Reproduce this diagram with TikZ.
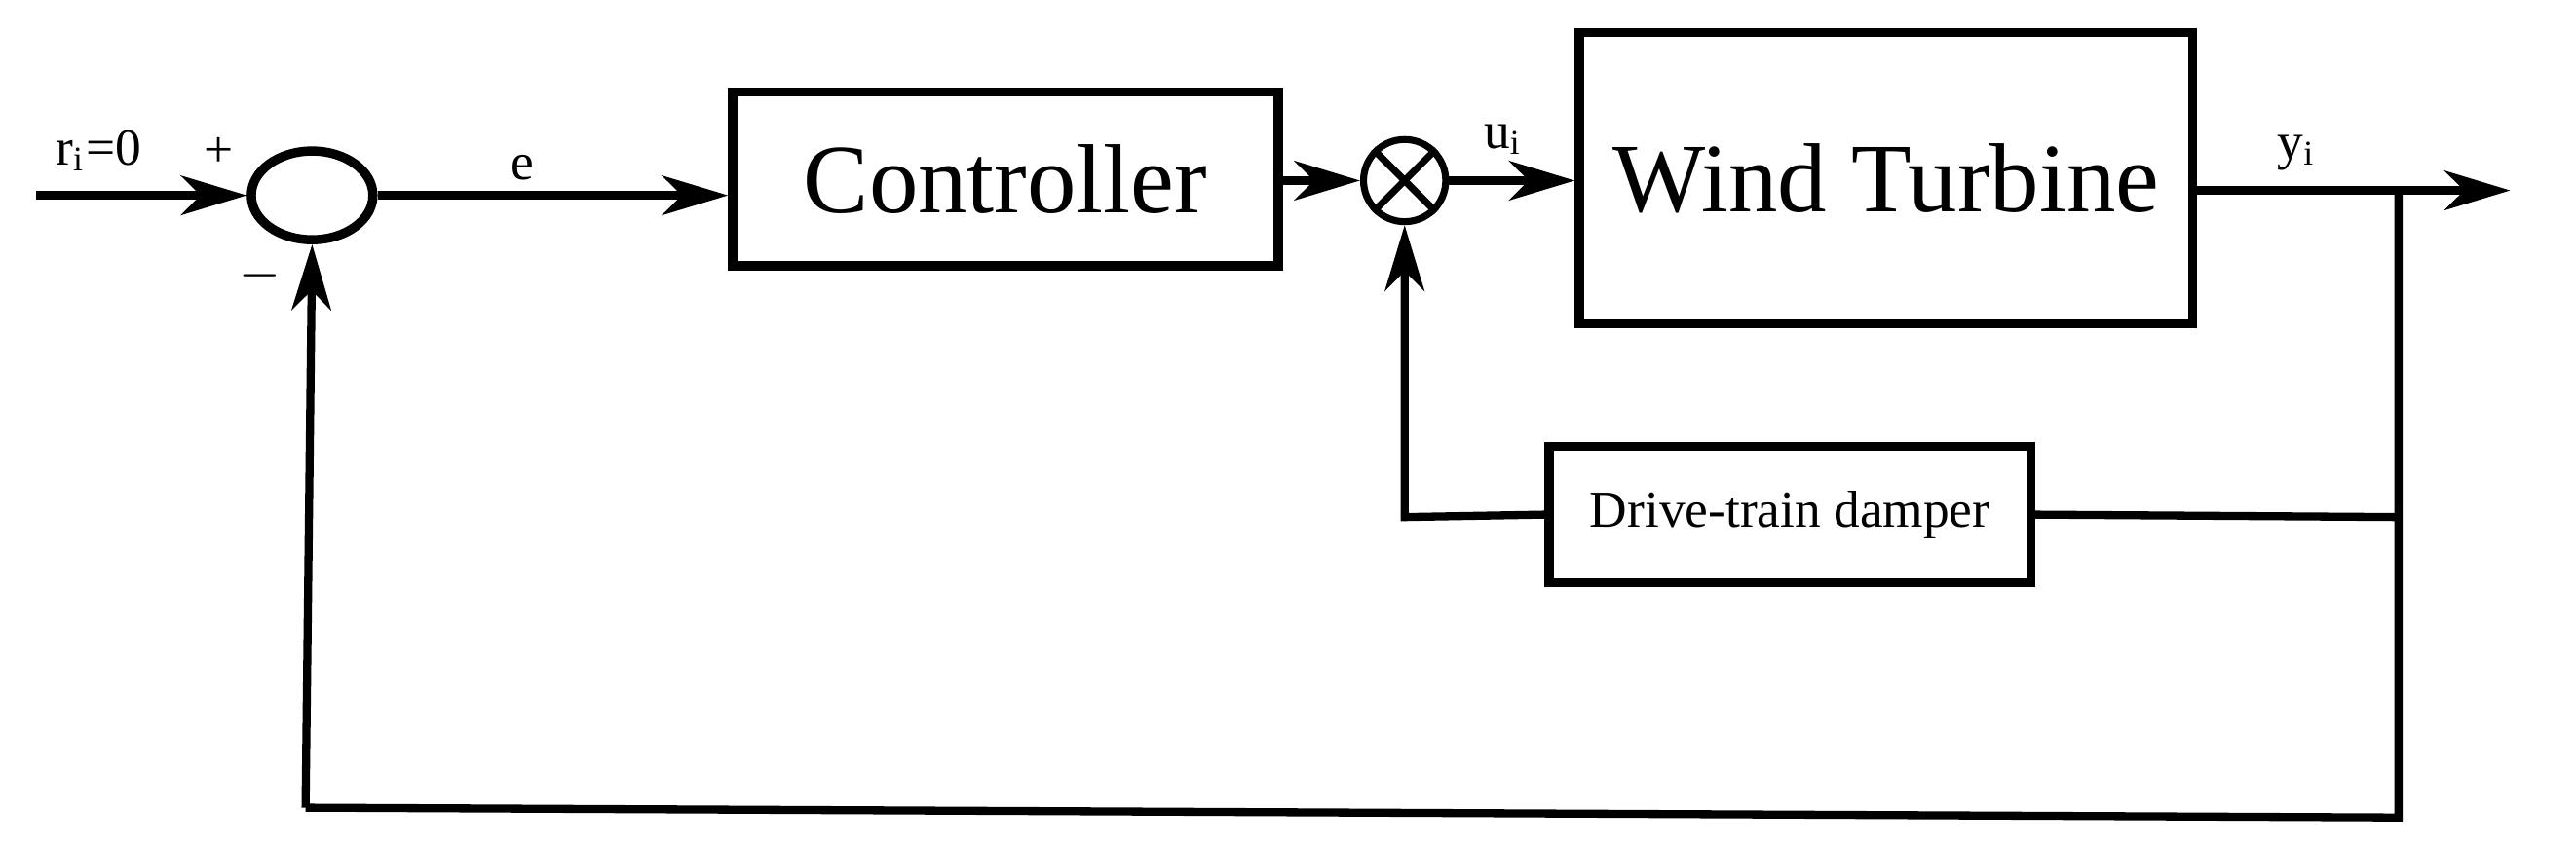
\documentclass[tikz,border=0pt]{standalone}
\usepackage{fontspec}
\setmainfont{Liberation Serif}
\usetikzlibrary{shapes.geometric,arrows.meta,positioning}
\begin{document}
\begin{tikzpicture}[x=0.01cm,y=-0.01cm,
line width=1.4pt,
>={Stealth[length=4mm,width=2.4mm,inset=1.2mm]},
blockBig/.style={rectangle, draw, line width=1.6pt, font=\fontsize{17}{20}\selectfont},
blockSmall/.style={rectangle, draw, line width=1.6pt, font=\fontsize{9}{11}\selectfont},
sumNode/.style={ellipse, draw, line width=1.6pt, minimum width=0.74cm, minimum height=0.54cm, inner sep=0pt},
mulNode/.style={circle, draw, line width=1.2pt, minimum size=0.5cm, inner sep=0pt},
lbl/.style={font=\fontsize{9}{11}\selectfont}]
\useasboundingbox (0,0) rectangle (1568,519);

\node[sumNode] (sum) at (190,119) {};
\node[blockBig, minimum width=3.32cm, minimum height=1.06cm] (ctrl) at (612,109) {Controller};
\node[mulNode] (mul) at (855,110) {};
\draw[line width=1.2pt] (mul.north west) -- (mul.south east) (mul.north east) -- (mul.south west);
\node[blockBig, minimum width=3.73cm, minimum height=1.77cm] (wt) at (1148,108.5) {Wind Turbine};
\node[blockSmall, minimum width=2.93cm, minimum height=0.83cm] (damp) at (1089.5,313.5) {Drive-train damper};

\coordinate (in) at (22,119);
\coordinate (out) at (1528,116);
\coordinate (tap) at (1460,116);
\coordinate (tapD) at (1460,315);
\coordinate (tapB) at (1460,498);
\coordinate (lowL) at (186,492);
\coordinate (dampL) at (855,315);

\draw[->] (in) -- (sum.west);
\draw[->] (sum.east) -- (sum.east -| ctrl.west);
\draw[->] (ctrl.east |- mul.west) -- (mul.west);
\draw[->] (mul.east) -- (mul.east -| wt.west);
\draw[->] (wt.east |- out) -- (out);
\draw (tap) -- (tapB) -- (lowL);
\draw[->] (lowL) -- (sum.south);
\draw (tapD) -- (damp.east);
\draw[->] (damp.west) -- (dampL) -- (mul.south);

\node[lbl] at (60,92) {r$_\mathrm{i}$=0};
\node[lbl] at (133,93) {+};
\node[lbl] at (158,168) {$-$};
\node[lbl] at (318,102) {e};
\node[lbl] at (915,85) {u$_\mathrm{i}$};
\node[lbl] at (1398,93) {y$_\mathrm{i}$};
\end{tikzpicture}
\end{document}
